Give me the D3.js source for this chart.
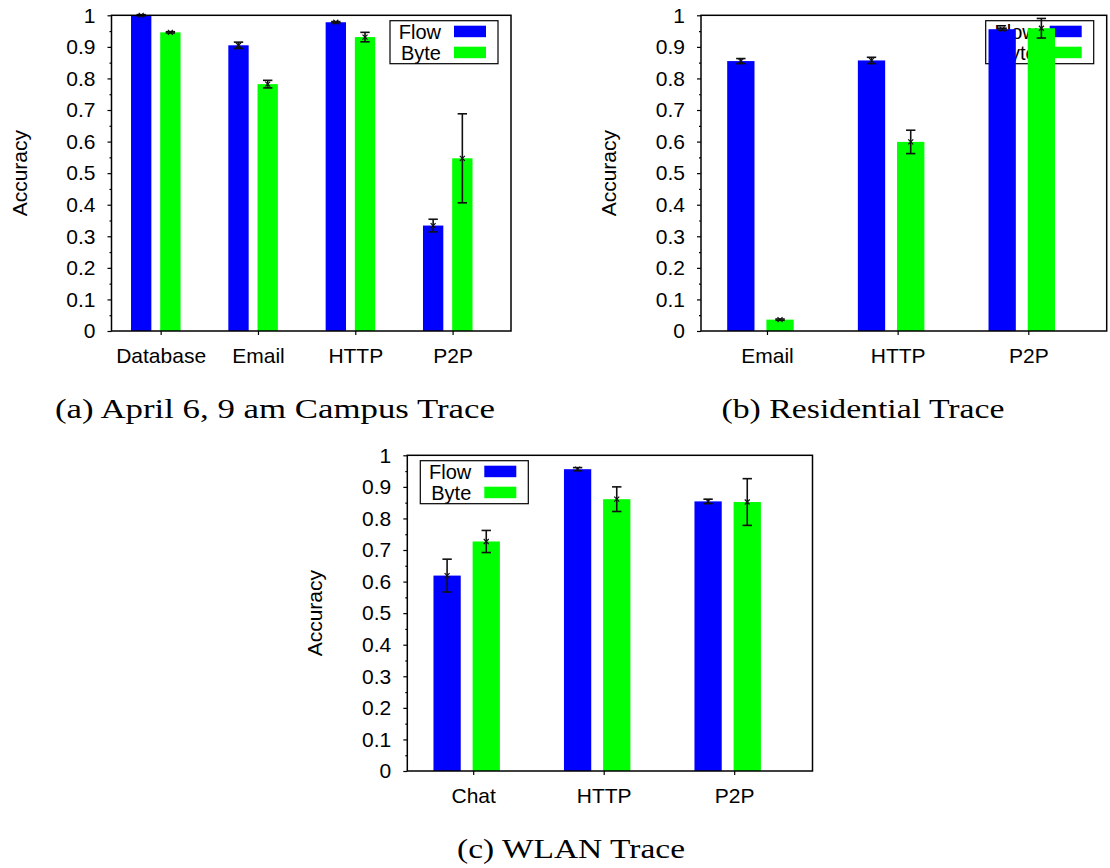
<!DOCTYPE html>
<html>
<head>
<meta charset="utf-8">
<script src="https://cdn.jsdelivr.net/npm/d3@7"></script>
<style>
  html, body { margin: 0; padding: 0; background: #fff; }
  svg { display: block; }
  text { font-family: "Liberation Sans", Arial, sans-serif; fill: #000; }
  .caption { font-family: "Liberation Serif", "Times New Roman", serif; }
</style>
</head>
<body>
<svg id="fig" width="1110" height="868"></svg>
<script>
// Series shared by all three panels
const seriesNames = ["Flow", "Byte"];
const seriesColors = ["#0000ff", "#00ff00"];

// Accuracy axis ticks
const yTickValues = [0, 0.1, 0.2, 0.3, 0.4, 0.5, 0.6, 0.7, 0.8, 0.9, 1];
const yTickLabels = ["0", "0.1", "0.2", "0.3", "0.4", "0.5", "0.6", "0.7", "0.8", "0.9", "1"];
const yMinorTicks = [0.05, 0.15, 0.25, 0.35, 0.45, 0.55, 0.65, 0.75, 0.85, 0.95];

// (a) Campus trace
const campusCategories = ["Database", "Email", "HTTP", "P2P"];
const campusFlow = [1.0, 0.905, 0.978, 0.334];
const campusFlowErr = [0.002, 0.010, 0.002, 0.020];
const campusByte = [0.946, 0.782, 0.931, 0.547];
const campusByteErr = [0.002, 0.012, 0.015, 0.141];

// (b) Residential trace
const residentialCategories = ["Email", "HTTP", "P2P"];
const residentialFlow = [0.855, 0.857, 0.956];
const residentialFlowErr = [0.008, 0.010, 0.003];
const residentialByte = [0.036, 0.599, 0.959];
const residentialByteErr = [0.002, 0.037, 0.031];

// (c) WLAN trace
const wlanCategories = ["Chat", "HTTP", "P2P"];
const wlanFlow = [0.619, 0.956, 0.854];
const wlanFlowErr = [0.052, 0.005, 0.007];
const wlanByte = [0.727, 0.861, 0.852];
const wlanByteErr = [0.035, 0.039, 0.074];

const captions = ["(a) April 6, 9 am Campus Trace", "(b) Residential Trace", "(c) WLAN Trace"];

const svg = d3.select("#fig");

function drawPanel(opts) {
  const { left, right, top, bottom, categories, values, errors, legendSide, caption } = opts;
  const n = categories.length;
  const g = svg.append("g");

  const x = d3.scaleLinear().domain([-0.505, n - 0.4]).range([left, right]);
  const y = d3.scaleLinear().domain([0, 1]).range([bottom, top]);

  // y axis: major ticks with labels, minor ticks without
  const yAxis = d3.axisLeft(y)
    .tickValues(yTickValues)
    .tickFormat((d, i) => yTickLabels[i])
    .tickSize(4)
    .tickPadding(12);
  const ya = g.append("g").attr("transform", `translate(${left},0)`).call(yAxis);
  ya.select(".domain").remove();
  ya.selectAll("line").attr("stroke", "#000").attr("stroke-width", 1.2);
  ya.selectAll("text").style("font-size", "21px").style("font-family", "Liberation Sans, Arial, sans-serif");

  const ym = g.append("g").attr("transform", `translate(${left},0)`)
    .call(d3.axisLeft(y).tickValues(yMinorTicks).tickFormat("").tickSize(2));
  ym.select(".domain").remove();
  ym.selectAll("line").attr("stroke", "#000").attr("stroke-width", 1.2);

  // x axis: category ticks below the frame
  const xAxis = d3.axisBottom(x)
    .tickValues(d3.range(n))
    .tickFormat(i => categories[i])
    .tickSize(4)
    .tickPadding(13);
  const xa = g.append("g").attr("transform", `translate(0,${bottom})`).call(xAxis);
  xa.select(".domain").remove();
  xa.selectAll("line").attr("stroke", "#000").attr("stroke-width", 1.2);
  xa.selectAll("text").style("font-size", "21px").style("font-family", "Liberation Sans, Arial, sans-serif");

  // y axis title
  g.append("text")
    .attr("transform", `translate(${left - 85},${(top + bottom) / 2}) rotate(-90)`)
    .attr("text-anchor", "middle")
    .style("font-size", "21px")
    .text("Accuracy");

  // Legend sits beneath the bars
  const legW = 108, legH = 43;
  const bx = legendSide === "left" ? left + 13 : right - 13 - legW;
  const by = top + 5.4;
  const leg = g.append("g").attr("transform", `translate(${bx},${by})`);
  leg.append("rect").attr("width", legW).attr("height", legH)
    .attr("fill", "none").attr("stroke", "#000").attr("stroke-width", 1.2);
  seriesNames.forEach((name, s) => {
    leg.append("text")
      .attr("x", 51).attr("y", 18.5 + s * 20.5)
      .attr("text-anchor", "end")
      .style("font-size", "20px")
      .text(name);
    leg.append("rect")
      .attr("x", 64).attr("y", 5 + s * 21).attr("width", 32).attr("height", 11.5)
      .attr("fill", seriesColors[s]);
  });

  // Bars and error bars
  const offsets = [-0.2, 0.1];
  const barW = 0.209;
  seriesNames.forEach((name, s) => {
    const vals = values[s], errs = errors[s];
    g.append("g").selectAll("rect").data(vals).join("rect")
      .attr("x", (d, i) => x(i + offsets[s] - barW / 2))
      .attr("width", (d, i) => x(i + offsets[s] + barW / 2) - x(i + offsets[s] - barW / 2))
      .attr("y", d => y(d))
      .attr("height", d => y(0) - y(d))
      .attr("fill", seriesColors[s]);

    const eb = g.append("g").attr("stroke", "#111").attr("stroke-width", 1.6).attr("fill", "none");
    vals.forEach((v, i) => {
      const cx = x(i + offsets[s]);
      const y1 = y(v + errs[i]), y0 = y(v - errs[i]);
      eb.append("line").attr("x1", cx).attr("x2", cx).attr("y1", y1).attr("y2", y0);
      eb.append("line").attr("x1", cx - 4.7).attr("x2", cx + 4.7).attr("y1", y1).attr("y2", y1);
      eb.append("line").attr("x1", cx - 4.7).attr("x2", cx + 4.7).attr("y1", y0).attr("y2", y0);
      const cy = y(v);
      eb.append("path")
        .attr("d", `M${cx - 2.5},${cy - 2.5}L${cx + 2.5},${cy + 2.5}M${cx - 2.5},${cy + 2.5}L${cx + 2.5},${cy - 2.5}`)
        .attr("stroke-width", 1.2);
    });
  });

  // Plot frame
  g.append("rect")
    .attr("x", left).attr("y", top)
    .attr("width", right - left).attr("height", bottom - top)
    .attr("fill", "none").attr("stroke", "#000").attr("stroke-width", 1.5);

  // Caption
  g.append("text")
    .attr("class", "caption")
    .attr("x", caption.cx).attr("y", caption.baseline)
    .attr("text-anchor", "middle")
    .attr("textLength", caption.width)
    .attr("lengthAdjust", "spacingAndGlyphs")
    .style("font-size", "27px")
    .text(caption.text);
}

drawPanel({
  left: 111.5, right: 511, top: 15.3, bottom: 331,
  categories: campusCategories,
  values: [campusFlow, campusByte],
  errors: [campusFlowErr, campusByteErr],
  legendSide: "right",
  caption: { text: captions[0], cx: 275, baseline: 418, width: 440 }
});

drawPanel({
  left: 701, right: 1106.7, top: 15.3, bottom: 331,
  categories: residentialCategories,
  values: [residentialFlow, residentialByte],
  errors: [residentialFlowErr, residentialByteErr],
  legendSide: "right",
  caption: { text: captions[1], cx: 863, baseline: 418, width: 283 }
});

drawPanel({
  left: 407.3, right: 812.5, top: 455.3, bottom: 771,
  categories: wlanCategories,
  values: [wlanFlow, wlanByte],
  errors: [wlanFlowErr, wlanByteErr],
  legendSide: "left",
  caption: { text: captions[2], cx: 571, baseline: 858, width: 228 }
});
</script>
</body>
</html>
